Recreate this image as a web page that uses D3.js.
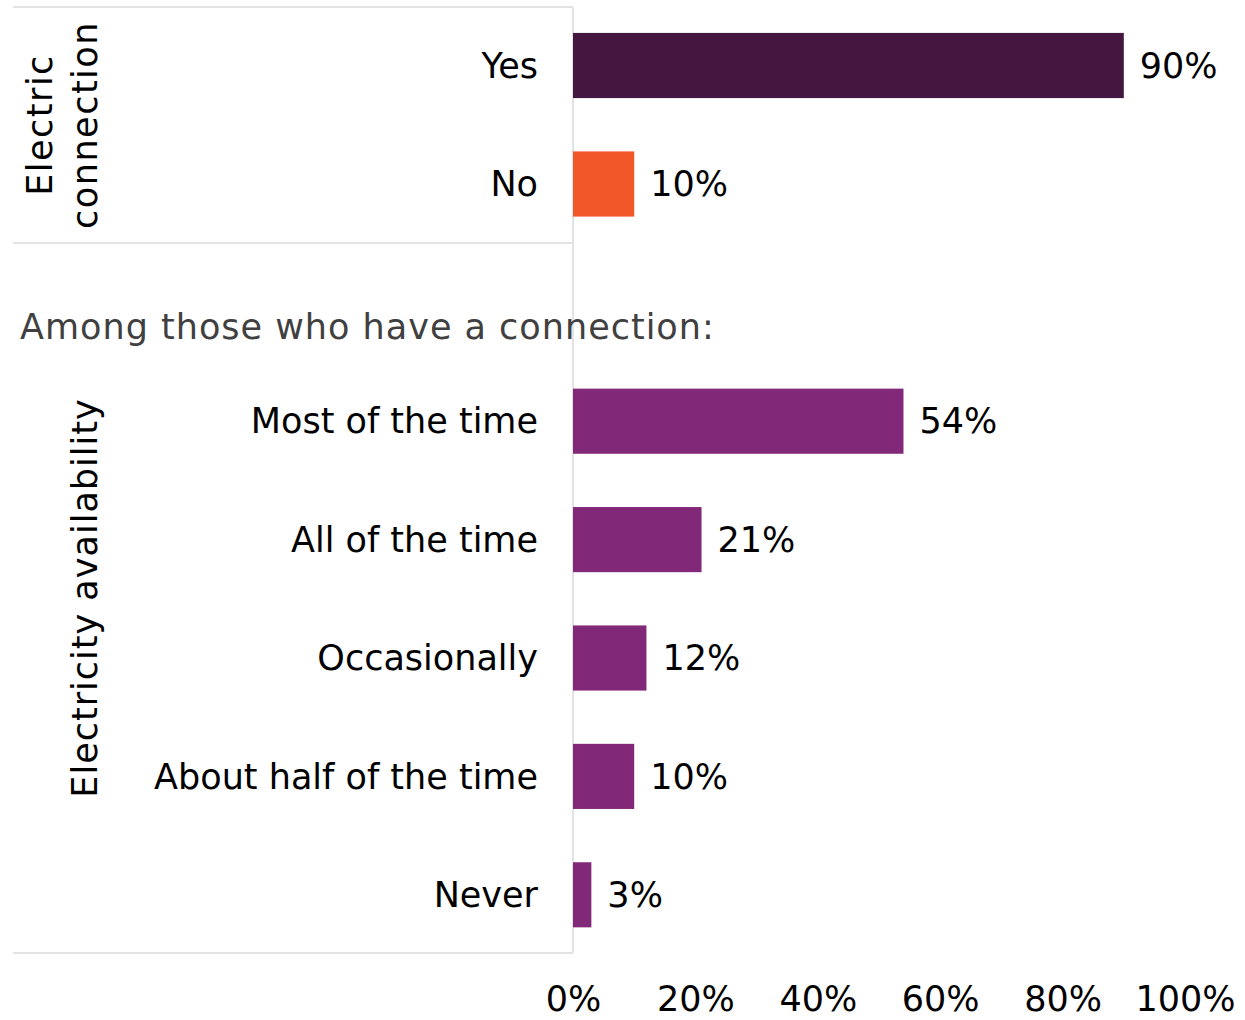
<!DOCTYPE html>
<html>
<head>
<meta charset="utf-8">
<script src="https://cdn.jsdelivr.net/npm/d3@7"></script>
<style>
  body { margin: 0; background: #fff; }
  text { font-family: "DejaVu Sans", "Noto Sans", sans-serif; }
</style>
</head>
<body>
<svg id="chart" width="1245" height="1020"></svg>
<script>
// top panel
const connCats = ["Yes", "No"];
const connVals = [0.90, 0.10];
const connColors = ["#45163f", "#f2572a"];

// bottom panel
const availCats = ["Most of the time", "All of the time", "Occasionally", "About half of the time", "Never"];
const availVals = [0.54, 0.21, 0.12, 0.10, 0.03];

const xTicks = [0, 0.2, 0.4, 0.6, 0.8, 1.0];

const svg = d3.select("#chart");
const fontSize = 35;

const x = d3.scaleLinear().domain([0, 1]).range([573, 1185]);

const yTop = d3.scaleBand().domain(connCats).range([6.25, 243.25])
    .paddingInner(0.45).paddingOuter(0.225);
const yBot = d3.scaleBand().domain(availCats).range([362, 954])
    .paddingInner(0.45).paddingOuter(0.225);

// panel borders
const border = "#e3e3e3";
svg.append("line").attr("x1", 13).attr("x2", 573).attr("y1", 7).attr("y2", 7).attr("stroke", border).attr("stroke-width", 2);
svg.append("line").attr("x1", 13).attr("x2", 573).attr("y1", 243).attr("y2", 243).attr("stroke", border).attr("stroke-width", 2);
svg.append("line").attr("x1", 573).attr("x2", 573).attr("y1", 7).attr("y2", 953).attr("stroke", border).attr("stroke-width", 2);
svg.append("line").attr("x1", 13).attr("x2", 573).attr("y1", 953).attr("y2", 953).attr("stroke", border).attr("stroke-width", 2);

function drawPanel(cats, vals, y, colorFn) {
    const data = cats.map((c, i) => ({ cat: c, val: vals[i], i }));
    const g = svg.append("g");
    g.selectAll("rect")
        .data(data)
        .enter()
        .append("rect")
        .attr("x", x(0))
        .attr("y", d => y(d.cat))
        .attr("width", d => x(d.val) - x(0))
        .attr("height", y.bandwidth())
        .attr("fill", colorFn);

    g.selectAll(".val")
        .data(data)
        .enter()
        .append("text")
        .attr("x", d => x(d.val) + 16)
        .attr("y", d => y(d.cat) + y.bandwidth() / 2)
        .attr("dy", "0.35em")
        .attr("font-size", fontSize)
        .attr("fill", "#000")
        .text(d => d3.format(".0%")(d.val));

    g.selectAll(".cat")
        .data(data)
        .enter()
        .append("text")
        .attr("x", 538)
        .attr("y", d => y(d.cat) + y.bandwidth() / 2)
        .attr("dy", "0.35em")
        .attr("text-anchor", "end")
        .attr("font-size", fontSize)
        .attr("fill", "#000")
        .text(d => d.cat);
}

drawPanel(connCats, connVals, yTop, (d, i) => connColors[i]);
drawPanel(availCats, availVals, yBot, () => "#822878");

// group titles
const t1 = svg.append("text")
    .attr("transform", "translate(52,125) rotate(-90)")
    .attr("text-anchor", "middle")
    .attr("font-size", fontSize)
    .attr("letter-spacing", 1.5)
    .attr("fill", "#000");
t1.append("tspan").attr("x", 0).attr("dy", 0).text("Electric");
t1.append("tspan").attr("x", 0).attr("dy", 45).text("connection");

svg.append("text")
    .attr("transform", "translate(97,598) rotate(-90)")
    .attr("text-anchor", "middle")
    .attr("font-size", fontSize)
    .attr("letter-spacing", 1)
    .attr("fill", "#000")
    .text("Electricity availability");

svg.append("text")
    .attr("x", 20)
    .attr("y", 327)
    .attr("dy", "0.35em")
    .attr("font-size", fontSize)
    .attr("letter-spacing", 1)
    .attr("fill", "#404040")
    .text("Among those who have a connection:");

// x axis
const xAxis = d3.axisBottom(x).tickValues(xTicks).tickFormat(d3.format(".0%")).tickSize(0);
const ax = svg.append("g").attr("transform", "translate(0,983)").call(xAxis);
ax.select(".domain").remove();
ax.selectAll("text").attr("font-size", fontSize).attr("fill", "#000")
    .attr("font-family", "'DejaVu Sans', 'Noto Sans', sans-serif");
</script>
</body>
</html>
